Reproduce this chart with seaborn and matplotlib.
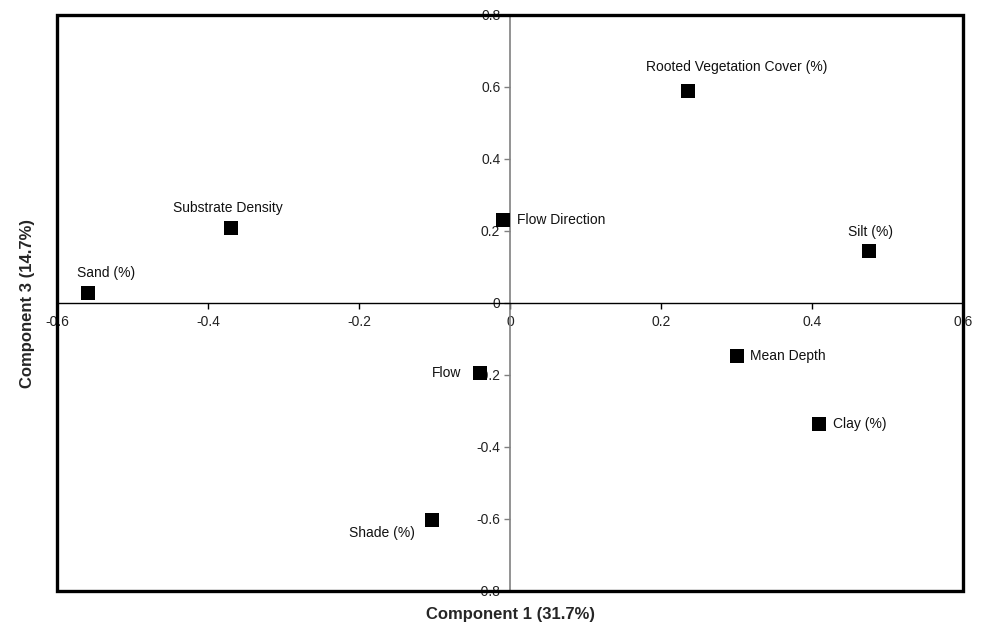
import matplotlib
matplotlib.use("Agg")
import matplotlib.pyplot as plt
import seaborn as sns
import pandas as pd
from matplotlib.patches import Rectangle

# PCA loadings: component 1 vs component 3
variables = ["Sand (%)", "Substrate Density", "Flow Direction", "Flow",
             "Rooted Vegetation Cover (%)", "Silt (%)", "Mean Depth",
             "Clay (%)", "Shade (%)"]
comp1 = [-0.559, -0.370, -0.009, -0.040, 0.236, 0.475, 0.300, 0.409, -0.103]
comp3 = [0.028, 0.208, 0.230, -0.194, 0.589, 0.144, -0.147, -0.336, -0.603]

x_ticks = [-0.6, -0.4, -0.2, 0, 0.2, 0.4, 0.6]
y_ticks = [-0.8, -0.6, -0.4, -0.2, 0, 0.2, 0.4, 0.6, 0.8]
x_title = "Component 1 (31.7%)"
y_title = "Component 3 (14.7%)"

# label offsets from each marker (pixels) and alignment
label_style = {
    "Sand (%)": ((18, 20), "center"),
    "Substrate Density": ((-3, 20), "center"),
    "Flow Direction": ((14, 0), "left"),
    "Flow": ((-19, 0), "right"),
    "Rooted Vegetation Cover (%)": ((49, 24), "center"),
    "Silt (%)": ((2, 19), "center"),
    "Mean Depth": ((13, 0), "left"),
    "Clay (%)": ((14, 0), "left"),
    "Shade (%)": ((-17, -13), "right"),
}

sns.set_style("white")
plt.rcParams["font.family"] = ["Liberation Sans", "DejaVu Sans"]

df = pd.DataFrame({"var": variables, "c1": comp1, "c3": comp3})

fig = plt.figure(figsize=(9.94, 6.29), dpi=100)
ax = fig.add_axes([57 / 994, 1 - 591 / 629, 906 / 994, 576 / 629])

sns.scatterplot(data=df, x="c1", y="c3", marker="s", s=95, color="black",
                edgecolor="black", linewidth=0, ax=ax, zorder=5, legend=False)

ax.set_xlim(-0.6, 0.6)
ax.set_ylim(-0.8, 0.8)

# axes crossing at the origin
ax.spines["left"].set_position(("data", 0))
ax.spines["bottom"].set_position(("data", 0))
ax.spines["left"].set_color("#808080")
ax.spines["left"].set_linewidth(1.2)
ax.spines["bottom"].set_color("black")
ax.spines["bottom"].set_linewidth(1.0)
ax.spines["top"].set_visible(False)
ax.spines["right"].set_visible(False)

ax.set_xticks(x_ticks)
ax.set_yticks(y_ticks)
ax.set_xticklabels([f"{t:g}" for t in x_ticks])
ax.set_yticklabels([f"{t:g}" for t in y_ticks])
ax.tick_params(axis="x", direction="out", length=4, width=1, color="black",
               labelsize=10, pad=5, labelcolor="#222222")
ax.tick_params(axis="y", direction="out", length=4, width=1, color="#808080",
               labelsize=10, pad=3, labelcolor="#222222")
ax.tick_params(axis="both", which="both", bottom=True, left=True)

ax.set_xlabel("")
ax.set_ylabel("")

# outer frame around the plot area
ax.add_patch(Rectangle((0, 0), 1, 1, transform=ax.transAxes, fill=False,
                       edgecolor="black", linewidth=2.4, clip_on=False,
                       zorder=10))

fig.text(510 / 994, 1 - 615 / 629, x_title, ha="center", va="center",
         fontsize=12, fontweight="bold")
fig.text(28 / 994, 1 - 303 / 629, y_title, ha="center", va="center",
         rotation=90, fontsize=12, fontweight="bold")

for name, x, y in zip(variables, comp1, comp3):
    (dx, dy), ha = label_style[name]
    ax.annotate(name, (x, y), xytext=(dx, dy), textcoords="offset pixels",
                ha=ha, va="center", fontsize=10, color="#111111")

fig.savefig("out.png", dpi=100)
